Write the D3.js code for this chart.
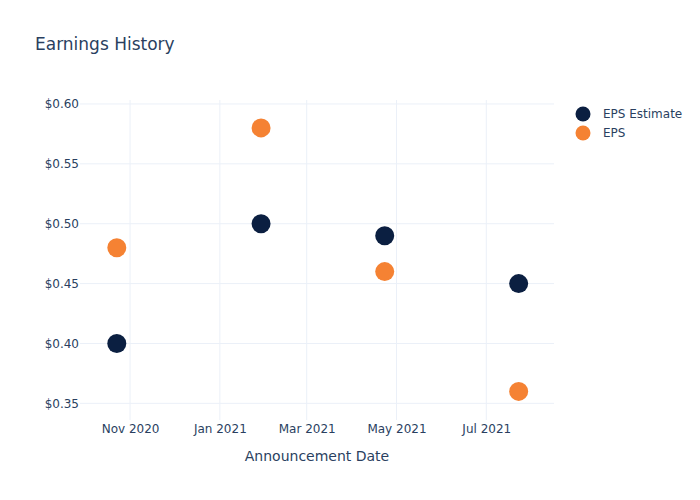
<!DOCTYPE html>
<html>
<head>
<meta charset="utf-8">
<script src="https://cdn.jsdelivr.net/npm/d3@7"></script>
<style>
  body { margin: 0; background: #fff; }
  text { font-family: "DejaVu Sans", sans-serif; fill: #2a3f5f; }
</style>
</head>
<body>
<svg id="chart" width="700" height="500"></svg>
<script>
// announcement dates and eps values
var dates = ["2020-10-23", "2021-01-29", "2021-04-23", "2021-07-23"];
var epsEstimate = [0.40, 0.50, 0.49, 0.45];
var eps = [0.48, 0.58, 0.46, 0.36];
var seriesNames = ["EPS Estimate", "EPS"];
var seriesColors = ["#0b1f41", "#f58233"];
var yTicks = [0.35, 0.40, 0.45, 0.50, 0.55, 0.60];
var xTicks = ["2020-11-01", "2021-01-01", "2021-03-01", "2021-05-01", "2021-07-01"];

var parse = d3.timeParse("%Y-%m-%d");
var svg = d3.select("#chart");

var plotLeft = 80, plotRight = 554, plotTop = 100, plotBottom = 420;

var x = d3.scaleTime()
  .domain([parse("2020-09-28"), parse("2021-08-16")])
  .range([plotLeft, plotRight]);

var y = d3.scaleLinear()
  .domain([0.3361, 0.6033])
  .range([plotBottom, plotTop]);

// grid
svg.append("g")
  .selectAll("line")
  .data(xTicks)
  .enter()
  .append("line")
  .attr("x1", (d) => x(parse(d)))
  .attr("x2", (d) => x(parse(d)))
  .attr("y1", plotTop)
  .attr("y2", plotBottom)
  .attr("stroke", "#ebf0f8")
  .attr("stroke-width", 1);

svg.append("g")
  .selectAll("line")
  .data(yTicks)
  .enter()
  .append("line")
  .attr("x1", plotLeft)
  .attr("x2", plotRight)
  .attr("y1", (d) => y(d))
  .attr("y2", (d) => y(d))
  .attr("stroke", "#ebf0f8")
  .attr("stroke-width", 1);

// axes
var yAxis = d3.axisLeft(y)
  .tickValues(yTicks)
  .tickSize(0)
  .tickPadding(1)
  .tickFormat((d) => "$" + d3.format(".2f")(d));

svg.append("g")
  .attr("transform", "translate(" + plotLeft + ",0)")
  .call(yAxis)
  .call((g) => g.select(".domain").remove())
  .selectAll("text")
  .style("font-size", "12px")
  .style("font-family", "DejaVu Sans")
  .attr("fill", "#2a3f5f");

var xAxis = d3.axisBottom(x)
  .tickValues(xTicks.map(parse))
  .tickSize(0)
  .tickPadding(4)
  .tickFormat(d3.timeFormat("%b %Y"));

svg.append("g")
  .attr("transform", "translate(0," + plotBottom + ")")
  .call(xAxis)
  .call((g) => g.select(".domain").remove())
  .selectAll("text")
  .style("font-size", "12px")
  .style("font-family", "DejaVu Sans")
  .attr("fill", "#2a3f5f");

svg.append("text")
  .attr("x", (plotLeft + plotRight) / 2)
  .attr("y", 461)
  .attr("text-anchor", "middle")
  .style("font-size", "14px")
  .text("Announcement Date");

svg.append("text")
  .attr("x", 35)
  .attr("y", 50)
  .style("font-size", "17px")
  .text("Earnings History");

// points
var series = [epsEstimate, eps];
series.forEach(function (vals, s) {
  svg.append("g")
    .selectAll("circle")
    .data(vals)
    .enter()
    .append("circle")
    .attr("cx", (d, i) => x(parse(dates[i])))
    .attr("cy", (d) => y(d))
    .attr("r", 9.5)
    .attr("fill", seriesColors[s]);
});

// legend
var legend = svg.append("g")
  .selectAll("g")
  .data(seriesNames)
  .enter()
  .append("g")
  .attr("transform", (d, i) => "translate(583," + (114 + i * 19) + ")");

legend.append("circle")
  .attr("r", 7.5)
  .attr("fill", (d, i) => seriesColors[i]);

legend.append("text")
  .attr("x", 20)
  .attr("dy", "0.35em")
  .style("font-size", "12px")
  .text((d) => d);
</script>
</body>
</html>
